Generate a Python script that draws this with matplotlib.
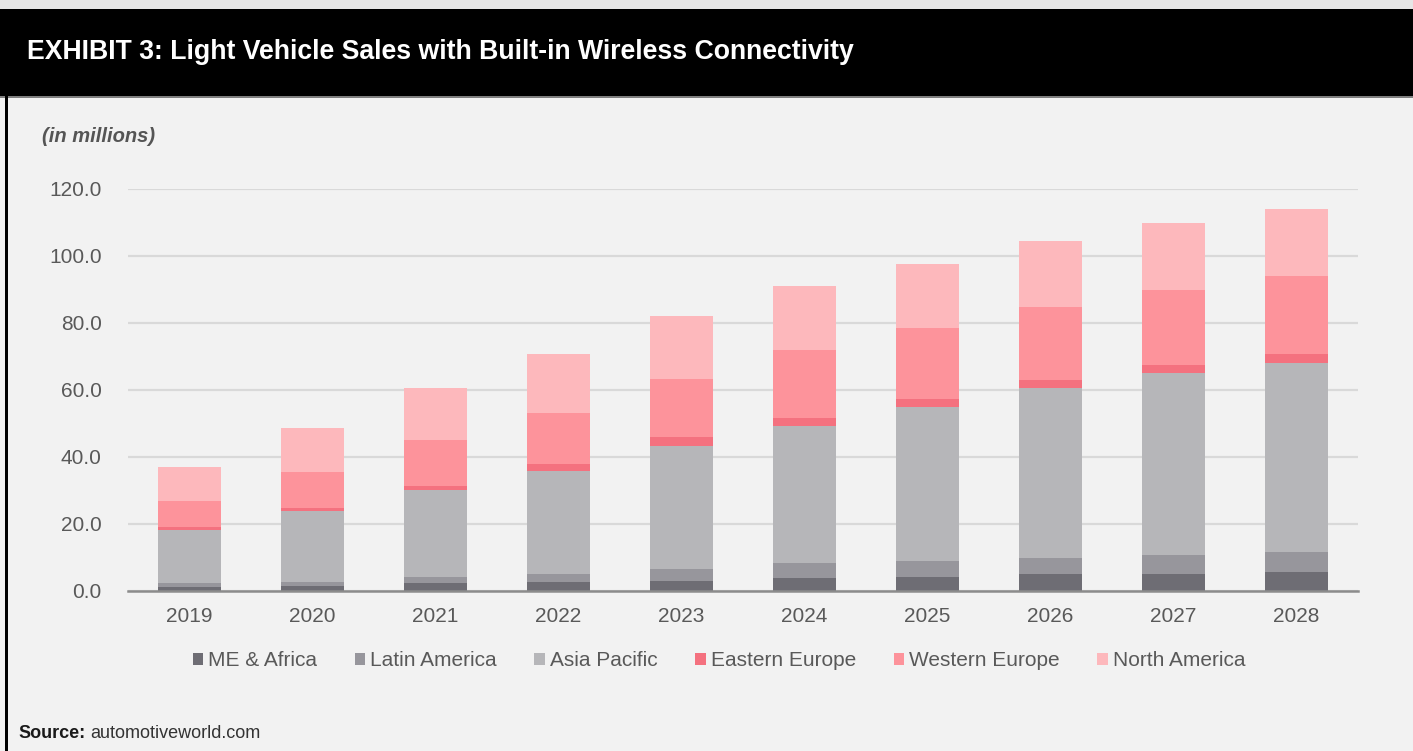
import matplotlib
matplotlib.use("Agg")
import matplotlib.pyplot as plt
from matplotlib.patches import Rectangle, Patch
import numpy as np

years = ["2019", "2020", "2021", "2022", "2023", "2024", "2025", "2026", "2027", "2028"]
series_names = ["ME & Africa", "Latin America", "Asia Pacific", "Eastern Europe", "Western Europe", "North America"]
me_africa = [1.2, 1.5, 2.3, 2.7, 3.0, 3.7, 4.2, 5.0, 5.0, 5.5]
latin_america = [1.0, 1.2, 1.9, 2.3, 3.5, 4.5, 4.6, 4.9, 5.7, 6.1]
asia_pacific = [15.9, 21.1, 25.9, 30.8, 36.8, 41.1, 46.1, 50.8, 54.2, 56.3]
eastern_europe = [0.8, 0.9, 1.2, 2.0, 2.5, 2.4, 2.3, 2.2, 2.6, 2.9]
western_europe = [8.0, 10.8, 13.7, 15.4, 17.5, 20.2, 21.2, 21.9, 22.3, 23.3]
north_america = [10.1, 13.1, 15.7, 17.6, 18.9, 19.0, 19.3, 19.7, 19.9, 20.0]
y_ticks = [0, 20, 40, 60, 80, 100, 120]

colors = ["#6e6d74", "#97969c", "#b6b6b9", "#f4717f", "#fd939b", "#fdb8bc"]
series = [me_africa, latin_america, asia_pacific, eastern_europe, western_europe, north_america]

plt.rcParams['font.family'] = ['Liberation Sans', 'DejaVu Sans']

W, H = 1413, 751
fig = plt.figure(figsize=(W / 100, H / 100), dpi=100)
fig.patch.set_facecolor("#f2f2f2")

# top strip and black title bar
fig.add_artist(Rectangle((0, 1 - 9 / H), 1, 9 / H, transform=fig.transFigure,
                         facecolor="#e6e6e6", edgecolor="none", zorder=0))
fig.add_artist(Rectangle((0, 1 - 96 / H), 1, 87 / H, transform=fig.transFigure,
                         facecolor="black", edgecolor="none", zorder=1))
fig.add_artist(Rectangle((0, 1 - 97.5 / H), 1, 1.5 / H, transform=fig.transFigure,
                         facecolor="#7f7f7f", edgecolor="none", zorder=1))
# left frame line
fig.add_artist(Rectangle((5 / W, 0), 2.5 / W, 1 - 96 / H, transform=fig.transFigure,
                         facecolor="black", edgecolor="none", zorder=1))

fig.text(27 / W, 1 - 52 / H, "EXHIBIT 3: Light Vehicle Sales with Built-in Wireless Connectivity",
         color="white", fontsize=19.2, fontweight="bold", va="center", ha="left")
fig.text(42 / W, 1 - 137 / H, "(in millions)", color="#555555", fontsize=14.5,
         fontweight="bold", fontstyle="italic", va="center", ha="left")

ax = fig.add_axes([128 / W, 1 - 590.7 / H, 1230 / W, (590.7 - 189) / H])
ax.set_facecolor("#f2f2f2")
x = np.arange(len(years))
bottom = np.zeros(len(years))
for name, vals, c in zip(series_names, series, colors):
    ax.bar(x, vals, 0.52, bottom=bottom, color=c, label=name, zorder=3)
    bottom += np.array(vals)

ax.set_xlim(-0.5, len(years) - 0.5)
ax.set_ylim(0, 120)
ax.set_yticks(y_ticks)
ax.set_yticklabels([f"{v:.1f}" for v in y_ticks])
ax.set_xticks(x)
ax.set_xticklabels(years)
ax.yaxis.grid(True, color="#d9d9d9", linewidth=1.6, zorder=0)
ax.set_axisbelow(True)
for s in ["left", "right", "top"]:
    ax.spines[s].set_visible(False)
ax.spines["bottom"].set_color("#8c8c8c")
ax.spines["bottom"].set_linewidth(1.8)
ax.spines["bottom"].set_zorder(4)
ax.tick_params(axis="both", length=0, labelsize=15, colors="#595959")
ax.tick_params(axis="y", pad=19)
ax.tick_params(axis="x", pad=12)

handles = [Patch(facecolor=c, edgecolor="none") for c in colors]
leg = fig.legend(handles, series_names, loc="center", bbox_to_anchor=(719 / W, 1 - 661 / H),
                 ncol=6, frameon=False, fontsize=15, handlelength=0.5, handleheight=0.5,
                 handletextpad=0.25, columnspacing=1.8)
for t in leg.get_texts():
    t.set_color("#595959")

fig.text(18 / W, 1 - 733 / H, "Source:", color="#1a1a1a", fontsize=13, fontweight="bold",
         va="center", ha="left")
fig.text(90 / W, 1 - 733 / H, "automotiveworld.com", color="#333333", fontsize=13,
         va="center", ha="left")

fig.savefig("out.png", dpi=100, facecolor=fig.get_facecolor())
